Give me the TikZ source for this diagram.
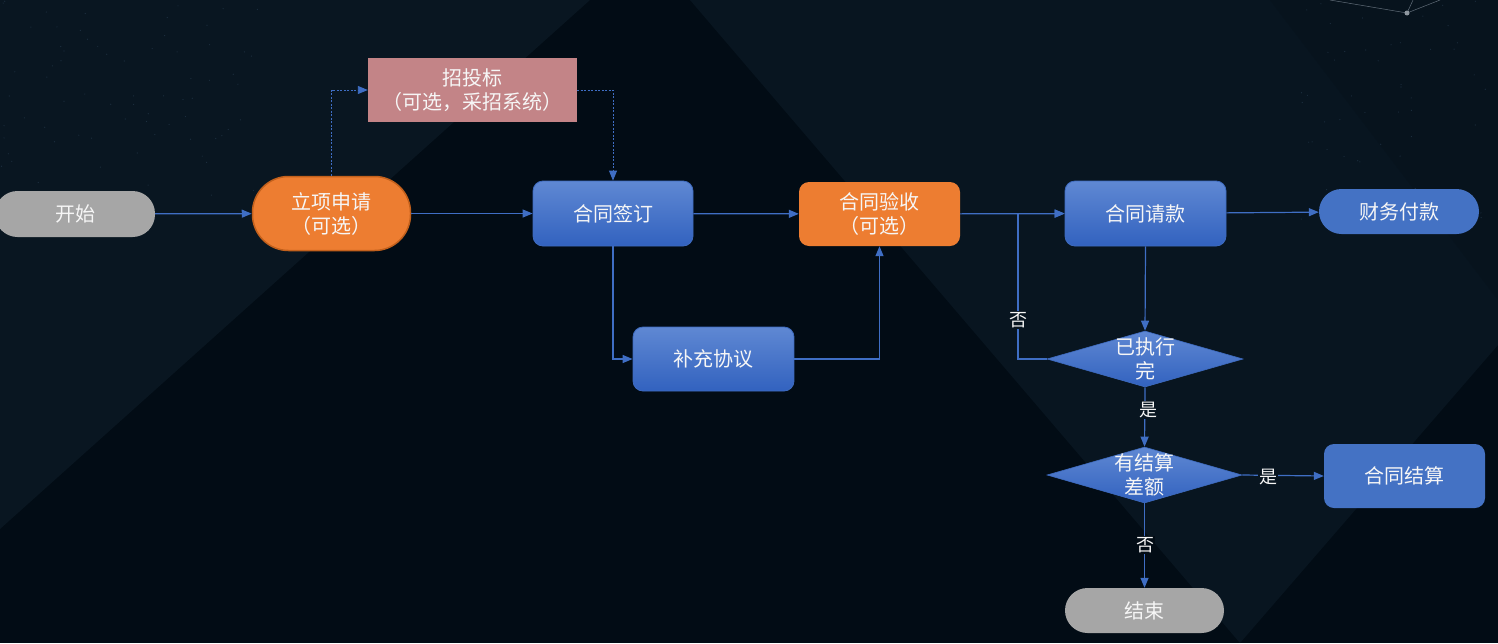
\documentclass[tikz,border=0pt]{standalone}
\usepackage{fontspec}
\setmainfont{Noto Sans CJK SC}
\usetikzlibrary{arrows.meta,shapes.geometric}

\definecolor{bgbase}{HTML}{020C15}
\definecolor{bglight}{HTML}{091621}
\definecolor{bgband}{HTML}{081520}
\definecolor{bgcorner}{HTML}{07131D}
\definecolor{speck}{HTML}{1D2F40}
\definecolor{linec}{HTML}{3F6EC4}
\definecolor{blueTop}{HTML}{5F88D3}
\definecolor{blueBot}{HTML}{3262BF}
\definecolor{blueEdge}{HTML}{3E6BBF}
\definecolor{blueFlat}{HTML}{4472C4}
\definecolor{orangeFill}{HTML}{ED7D31}
\definecolor{orangeEdge}{HTML}{C2601C}
\definecolor{grayFill}{HTML}{A6A6A6}
\definecolor{pinkFill}{HTML}{C38487}
\definecolor{txtc}{HTML}{F6F6F6}

\tikzset{
  box/.style={rectangle, inner sep=0pt, align=center, text=txtc,
    font=\fontsize{20}{24}\selectfont},
  bluebox/.style={box, rounded corners=10pt, top color=blueTop, bottom color=blueBot,
    draw=blueEdge, line width=0.8pt},
  flatbox/.style={box, rounded corners=10pt, fill=blueFlat},
  orangebox/.style={box, rounded corners=10pt, fill=orangeFill},
  pill/.style={box, rounded corners=22.5pt},
  dia/.style={diamond, inner sep=0pt, aspect=3.5, top color=blueTop, bottom color=blueBot,
    draw=blueEdge, line width=0.6pt},
  diatext/.style={box, fill=none},
  flow/.style={draw=linec, line width=1.2pt, -{Triangle[length=10pt,width=8pt]}},
  dflow/.style={flow, line width=0.9pt, dash pattern=on 2pt off 1.5pt},
  lab/.style={inner sep=1pt, text=txtc, font=\fontsize{18}{20}\selectfont},
}

\begin{document}
\begin{tikzpicture}[x=1pt, y=-1pt]
  \useasboundingbox (0,0) rectangle (1498,643);

  % backdrop
  \fill[bgbase] (0,0) rectangle (1498,643);
  \fill[bglight] (0,0) -- (590,0) -- (0,529) -- cycle;
  \fill[bgband] (690,0) -- (1498,0) -- (1498,345) -- (1240,643) -- cycle;
  \fill[bgcorner] (1270,0) -- (1498,0) -- (1498,300) -- cycle;
  \pgfmathsetseed{11}
  \foreach \i in {1,...,70} {
    \fill[speck] ({rnd*260},{rnd*200}) circle (0.6);
  }
  \foreach \i in {1,...,50} {
    \fill[speck] ({1300+rnd*198},{rnd*220}) circle (0.6);
  }
  \draw[speck!70!white, line width=0.5pt] (1330,0) -- (1407,13) -- (1440,0);
  \draw[speck!70!white, line width=0.5pt] (1407,13) -- (1413,0);
  \fill[speck!50!white] (1407,13) circle (2.5);

  % nodes
  \node[pill, fill=grayFill, minimum width=160pt, minimum height=46pt] (start) at (75,214) {开始};
  \node[box, fill=orangeFill, draw=orangeEdge, line width=1.5pt, rounded corners=36pt,
        minimum width=158pt, minimum height=74pt] (apply) at (331.5,213.5) {立项申请\\（可选）};
  \node[box, fill=pinkFill, minimum width=209pt, minimum height=64pt] (bid) at (472.5,90) {招投标\\（可选，采招系统）};
  \node[bluebox, minimum width=160pt, minimum height=65pt] (sign) at (613,213.5) {合同签订};
  \node[orangebox, minimum width=161pt, minimum height=64pt] (accept) at (879.5,214) {合同验收\\（可选）};
  \node[bluebox, minimum width=161pt, minimum height=65pt] (request) at (1145.5,213.5) {合同请款};
  \node[pill, fill=blueFlat, minimum width=160pt, minimum height=45pt] (pay) at (1399,211.5) {财务付款};
  \node[bluebox, minimum width=161pt, minimum height=64pt] (supp) at (713.5,359) {补充协议};
  \node[dia, minimum width=196pt, minimum height=56pt] (done) at (1145,359) {};
  \node[diatext] (donet) at (done) {已执行\\完};
  \node[dia, minimum width=195pt, minimum height=56pt] (diff) at (1144.5,475) {};
  \node[diatext] (difft) at (diff) {有结算\\差额};
  \node[flatbox, minimum width=161pt, minimum height=64pt] (settle) at (1404.5,476) {合同结算};
  \node[pill, fill=grayFill, minimum width=159pt, minimum height=45pt] (finish) at (1144.5,610.5) {结束};

  % connectors
  \coordinate (back) at (1018,213.5);
  \draw[flow] (start) -- (apply);
  \draw[flow] (apply) -- (sign);
  \draw[dflow] (apply.north) |- (bid.west);
  \draw[dflow] (bid.east) -| (sign.north);
  \draw[flow] (sign) -- (accept);
  \draw[flow] (sign.south) |- (supp.west);
  \draw[flow] (supp.east) -| (accept.south);
  \draw[flow] (accept) -- (request);
  \draw[flow] (request) -- (pay);
  \draw[flow] (request.south) -- (done.north);
  \draw[flow] (done.west) -| (back) -- (request.west);
  \draw[flow] (done.south) -- (diff.north);
  \draw[flow] (diff.east) -- (settle.west);
  \draw[flow] (diff.south) -- (finish.north);

  % branch labels
  \node[lab, fill=bgband] (no1) at (1018,320) {否};
  \node[lab, fill=bgband] (yes1) at (1148,410) {是};
  \node[lab, fill=bgband] (yes2) at (1268,477) {是};
  \node[lab, fill=bgbase] (no2) at (1145,545) {否};
\end{tikzpicture}
\end{document}
